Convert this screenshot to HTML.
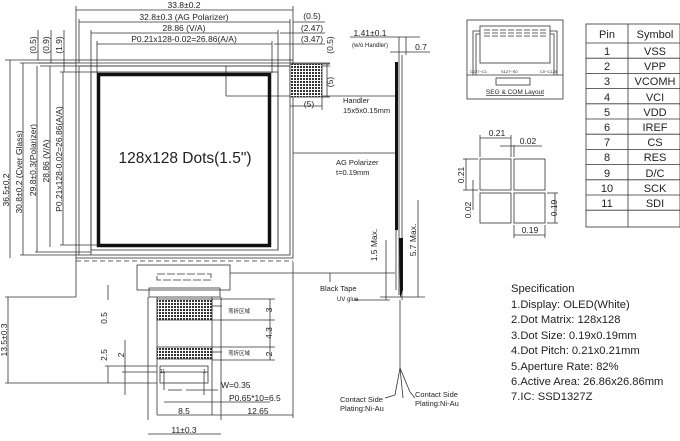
<!DOCTYPE html>
<html><head><meta charset="utf-8"><style>
html,body{margin:0;padding:0;background:#fff}
svg{display:block}
text{font-family:"Liberation Sans","Noto Sans CJK SC",sans-serif;fill:#222}
</style></head><body>
<svg width="680" height="441" viewBox="0 0 680 441" xmlns="http://www.w3.org/2000/svg">
<defs>
<pattern id="h" width="3" height="3" patternUnits="userSpaceOnUse"><rect width="3" height="3" fill="#fff"/><rect width="2" height="2" fill="#333"/></pattern>
</defs>
<g stroke="#333" stroke-width="0.8" fill="none">
<!-- top dims -->
<line x1="76" y1="10" x2="293" y2="10"/><line x1="79" y1="22" x2="290" y2="22"/>
<line x1="91" y1="33" x2="278" y2="33"/><line x1="97" y1="44" x2="272" y2="44"/>
<line x1="76" y1="6" x2="76" y2="60"/><line x1="293" y1="6" x2="293" y2="60"/>
<line x1="79" y1="19" x2="79" y2="63"/><line x1="290" y1="19" x2="290" y2="63"/>
<line x1="91" y1="30" x2="91" y2="255"/><line x1="278" y1="30" x2="278" y2="250"/>
<line x1="97" y1="41" x2="97" y2="73"/><line x1="272" y1="41" x2="272" y2="73"/>
<line x1="293" y1="22" x2="325" y2="22"/><line x1="280" y1="33" x2="325" y2="33"/><line x1="274" y1="44" x2="325" y2="44"/>
<!-- left vertical dims -->
<line x1="10" y1="60" x2="10" y2="258"/><line x1="23" y1="63" x2="23" y2="255"/>
<line x1="37" y1="66" x2="37" y2="252"/><line x1="50" y1="66" x2="50" y2="247"/><line x1="63" y1="72" x2="63" y2="245"/>
<line x1="38" y1="30" x2="38" y2="60"/><line x1="51" y1="30" x2="51" y2="63"/><line x1="64" y1="30" x2="64" y2="72"/>
<line x1="5" y1="60" x2="76" y2="60"/><line x1="20" y1="63" x2="76" y2="63"/>
<!-- glass -->
<rect x="76" y="60" width="217" height="198"/>
<line x1="38" y1="63" x2="330" y2="63"/><line x1="40" y1="66" x2="330" y2="66"/>
<rect x="79" y="66" width="211" height="189"/>
<rect x="91" y="72" width="187" height="178"/>
<line x1="60" y1="72" x2="97" y2="72"/><line x1="60" y1="245" x2="97" y2="245"/>
<line x1="20" y1="255" x2="79" y2="255"/><line x1="35" y1="252" x2="91" y2="252"/>
<line x1="76" y1="261" x2="293" y2="261" stroke-dasharray="5 3"/>
<!-- handler -->
<line x1="226" y1="66" x2="226" y2="96"/><line x1="226" y1="96" x2="395" y2="96"/>
<line x1="322" y1="64" x2="330" y2="64"/><line x1="322" y1="97" x2="330" y2="97"/>
<line x1="327" y1="64" x2="327" y2="97"/><line x1="290" y1="106" x2="322" y2="106"/>
<line x1="322" y1="97" x2="322" y2="110"/>
<line x1="293" y1="153" x2="395" y2="153"/>
<!-- bottom left dims -->
<line x1="8" y1="297" x2="8" y2="383"/><line x1="5" y1="297" x2="76" y2="297"/><line x1="5" y1="383" x2="157" y2="383"/>
<line x1="76" y1="258" x2="76" y2="297"/>
<line x1="108" y1="285" x2="108" y2="300"/><line x1="108" y1="366" x2="108" y2="383"/>
<line x1="125" y1="340" x2="125" y2="395"/>
<line x1="105" y1="366" x2="157" y2="366"/><line x1="122" y1="372" x2="157" y2="372"/>
<!-- FPC -->
<rect x="137" y="265" width="93" height="25"/>
<rect x="157" y="274" width="54" height="6" stroke-dasharray="8 2"/>
<rect x="149" y="288" width="71" height="9"/>
<line x1="148" y1="297" x2="148" y2="420"/><line x1="221" y1="297" x2="221" y2="420"/>
<line x1="157" y1="297" x2="157" y2="415"/><line x1="212" y1="297" x2="212" y2="415"/>
<rect x="157" y="299" width="55" height="21" fill="url(#h)"/>
<rect x="157" y="347" width="55" height="12" fill="url(#h)"/>
<rect x="160" y="366" width="48" height="17"/>
<line x1="160" y1="372" x2="208" y2="372"/>
<line x1="164" y1="372" x2="164" y2="390"/><line x1="204" y1="372" x2="204" y2="395"/>
<line x1="212" y1="306" x2="222" y2="306"/><line x1="212" y1="352" x2="222" y2="352"/>
<line x1="212" y1="320" x2="275" y2="320"/><line x1="212" y1="299" x2="275" y2="299"/>
<line x1="212" y1="347" x2="275" y2="347"/><line x1="212" y1="360" x2="275" y2="360"/>
<line x1="270" y1="299" x2="270" y2="360"/>
<line x1="168" y1="390" x2="182" y2="390"/><line x1="186" y1="390" x2="218" y2="390"/>
<line x1="164" y1="402" x2="270" y2="402"/>
<line x1="157" y1="415" x2="293" y2="415"/><line x1="293" y1="262" x2="293" y2="418"/>
<line x1="148" y1="434" x2="221" y2="434"/>
<line x1="230" y1="273" x2="395" y2="273"/><line x1="330" y1="273" x2="330" y2="282"/>
<line x1="355" y1="300" x2="390" y2="300"/>
<!-- side view -->
<line x1="396" y1="62" x2="396" y2="290"/><line x1="399" y1="55" x2="399" y2="295"/><line x1="402" y1="55" x2="402" y2="300"/>
<line x1="399" y1="37" x2="399" y2="55"/><line x1="406" y1="37" x2="406" y2="55"/>
<line x1="350" y1="37" x2="420" y2="37"/><line x1="390" y1="52" x2="430" y2="52"/>
<line x1="386" y1="240" x2="386" y2="300"/><line x1="418" y1="200" x2="418" y2="297"/>
<line x1="380" y1="297" x2="425" y2="297"/>
<line x1="400" y1="300" x2="400" y2="368"/>
<line x1="400" y1="368" x2="395" y2="395"/><line x1="400" y1="368" x2="403" y2="398"/><line x1="400" y1="368" x2="410" y2="392"/>
<line x1="395" y1="395" x2="385" y2="398"/><line x1="410" y1="392" x2="415" y2="398"/>
<!-- SEG layout -->
<rect x="467" y="20" width="96" height="79"/>
<line x1="467" y1="75" x2="563" y2="75"/>
<rect x="480" y="26" width="70" height="37"/>
<rect x="496" y="78" width="34" height="7"/>
<path d="M473 75 V31 H480 M476 75 V34 H480 M557 75 V31 H550 M554 75 V34 H550"/>
<path d="M484 30 H548 M484 33 H548 M484 36 H548" stroke-dasharray="6 2"/>
<!-- dot pitch -->
<rect x="480" y="159" width="31" height="31"/><rect x="514" y="159" width="31" height="31"/>
<rect x="480" y="193" width="31" height="30"/><rect x="514" y="193" width="31" height="30"/>
<line x1="480" y1="135" x2="480" y2="157"/><line x1="511" y1="135" x2="511" y2="157"/><line x1="514" y1="145" x2="514" y2="157"/>
<line x1="480" y1="138" x2="511" y2="138"/><line x1="500" y1="146" x2="542" y2="146"/>
<line x1="463" y1="159" x2="478" y2="159"/><line x1="463" y1="190" x2="478" y2="190"/><line x1="466" y1="159" x2="466" y2="190"/>
<line x1="473" y1="180" x2="473" y2="210"/>
<line x1="547" y1="193" x2="558" y2="193"/><line x1="547" y1="223" x2="558" y2="223"/><line x1="555" y1="193" x2="555" y2="223"/>
<line x1="514" y1="235" x2="545" y2="235"/><line x1="514" y1="225" x2="514" y2="238"/><line x1="545" y1="225" x2="545" y2="238"/>
<!-- table -->
<rect x="586" y="24" width="94" height="203"/>
<line x1="628" y1="24" x2="628" y2="227"/>
<line x1="586" y1="43" x2="680" y2="43"/>
<path d="M586 58.2H680M586 73.4H680M586 88.6H680M586 103.8H680M586 119H680M586 134.2H680M586 149.4H680M586 164.6H680M586 179.8H680M586 195H680M586 210.2H680"/>
</g>
<!-- black frame -->
<rect x="98.5" y="74.5" width="171" height="171" fill="none" stroke="#111" stroke-width="3.5"/>
<rect x="290" y="64" width="32" height="33" fill="url(#h)" stroke="#333" stroke-width="0.8"/>
<rect x="395" y="62" width="3" height="168" fill="#111"/>
<path d="M399 238 L403 238 L403 290 L400 298 Z" fill="#111"/>
<g font-size="8.5">
<text x="184" y="8" text-anchor="middle">33.8±0.2</text>
<text x="184" y="20" text-anchor="middle">32.8±0.3 (AG Polarizer)</text>
<text x="184" y="31" text-anchor="middle">28.86 (V/A)</text>
<text x="184" y="42" text-anchor="middle">P0.21x128-0.02=26.86(A/A)</text>
<text x="312" y="19" text-anchor="middle">(0.5)</text>
<text x="312" y="31" text-anchor="middle">(2.47)</text>
<text x="312" y="42" text-anchor="middle">(3.47)</text>
<text x="309" y="107" text-anchor="middle">(5)</text>
<text transform="translate(36,45) rotate(-90)" text-anchor="middle">(0.5)</text>
<text transform="translate(49,45) rotate(-90)" text-anchor="middle">(0.9)</text>
<text transform="translate(62,45) rotate(-90)" text-anchor="middle">(1.9)</text>
<text transform="translate(333,45) rotate(-90)" text-anchor="middle">(0.5)</text>
<text transform="translate(333,82) rotate(-90)" text-anchor="middle">(5)</text>
<text transform="translate(9,190) rotate(-90)" text-anchor="middle">36.5±0.2</text>
<text transform="translate(22,172) rotate(-90)" text-anchor="middle">30.8±0.2 (Cver Glass)</text>
<text transform="translate(36,160) rotate(-90)" text-anchor="middle">29.8±0.3(Polarizer)</text>
<text transform="translate(49,161) rotate(-90)" text-anchor="middle">28.86 (V/A)</text>
<text transform="translate(62,159) rotate(-90)" text-anchor="middle">P0.21x128-0.02=26.86(A/A)</text>
<text transform="translate(7,340) rotate(-90)" text-anchor="middle">13.5±0.3</text>
<text transform="translate(107,318) rotate(-90)" text-anchor="middle">0.5</text>
<text transform="translate(107,355) rotate(-90)" text-anchor="middle">2.5</text>
<text transform="translate(124,355) rotate(-90)" text-anchor="middle">2</text>
<text transform="translate(272,310) rotate(-90)" text-anchor="middle">3</text>
<text transform="translate(272,333) rotate(-90)" text-anchor="middle">4.3</text>
<text transform="translate(272,354) rotate(-90)" text-anchor="middle">2</text>
<text x="221" y="388">W=0.35</text>
<text x="229" y="401">P0.65*10=6.5</text>
<text x="184" y="414" text-anchor="middle">8.5</text>
<text x="258" y="414" text-anchor="middle">12.65</text>
<text x="184" y="433" text-anchor="middle">11±0.3</text>
<text x="343" y="103" font-size="7.5">Handler</text>
<text x="343" y="113" font-size="7.5">15x5x0.15mm</text>
<text x="336" y="165" font-size="7.5">AG Polarizer</text>
<text x="336" y="175" font-size="7.5">t=0.19mm</text>
<text x="370" y="36" text-anchor="middle">1.41±0.1</text>
<text x="370" y="47" text-anchor="middle" font-size="6">(w/o Handler)</text>
<text x="421" y="50" text-anchor="middle">0.7</text>
<text transform="translate(377,245) rotate(-90)" text-anchor="middle">1.5 Max.</text>
<text transform="translate(416,240) rotate(-90)" text-anchor="middle">5.7 Max.</text>
<text x="320" y="291" font-size="7.5">Black Tape</text>
<text x="337" y="301" font-size="6">UV glue</text>
<text x="340" y="402" font-size="7.5">Contact Side</text>
<text x="340" y="411" font-size="7.5">Plating:Ni-Au</text>
<text x="415" y="397" font-size="7.5">Contact Side</text>
<text x="415" y="406" font-size="7.5">Plating:Ni-Au</text>
<text x="228" y="313" font-size="5.5">弯折区域</text>
<text x="228" y="355" font-size="5.5">弯折区域</text>
<text x="160" y="373" font-size="5">11</text>
<text x="203" y="373" font-size="5">1</text>
<text x="497" y="136" text-anchor="middle">0.21</text>
<text x="528" y="144" text-anchor="middle">0.02</text>
<text transform="translate(464,175) rotate(-90)" text-anchor="middle">0.21</text>
<text transform="translate(471,210) rotate(-90)" text-anchor="middle">0.02</text>
<text transform="translate(557,208) rotate(-90)" text-anchor="middle">0.19</text>
<text x="530" y="233" text-anchor="middle">0.19</text>
<text x="515" y="94" text-anchor="middle" font-size="6.5" text-decoration="underline">SEG &amp; COM Layout</text>
<text x="470" y="73" font-size="4">C127~C1</text><text x="501" y="73" font-size="4">S127~S0</text><text x="540" y="73" font-size="4">C0~C126</text>
</g>
<text x="185" y="163" text-anchor="middle" font-size="15.5">128x128 Dots(1.5")</text>
<g font-size="11.2">
<text x="511" y="292">Specification</text>
<text x="511" y="308">1.Display: OLED(White)</text>
<text x="511" y="323">2.Dot Matrix: 128x128</text>
<text x="511" y="339">3.Dot Size: 0.19x0.19mm</text>
<text x="511" y="354">4.Dot Pitch: 0.21x0.21mm</text>
<text x="511" y="370">5.Aperture Rate: 82%</text>
<text x="511" y="385">6.Active Area: 26.86x26.86mm</text>
<text x="511" y="400">7.IC: SSD1327Z</text>
</g>
<g font-size="11" text-anchor="middle">
<text x="607" y="38" font-family="Liberation Serif">Pin</text>
<text x="655" y="38" font-family="Liberation Serif">Symbol</text>
<g font-family="Liberation Serif">
<text x="607" y="55">1</text><text x="607" y="70">2</text><text x="607" y="85">3</text><text x="607" y="101">4</text><text x="607" y="116">5</text><text x="607" y="131">6</text><text x="607" y="146">7</text><text x="607" y="161">8</text><text x="607" y="177">9</text>
</g>
<text x="607" y="192">10</text><text x="607" y="207">11</text>
<text x="655" y="55">VSS</text><text x="655" y="70">VPP</text><text x="655" y="85">VCOMH</text><text x="655" y="101">VCI</text><text x="655" y="116">VDD</text><text x="655" y="131">IREF</text><text x="655" y="146">CS</text><text x="655" y="161">RES</text><text x="655" y="177">D/C</text><text x="655" y="192">SCK</text><text x="655" y="207">SDI</text>
</g>
</svg>
</body></html>
